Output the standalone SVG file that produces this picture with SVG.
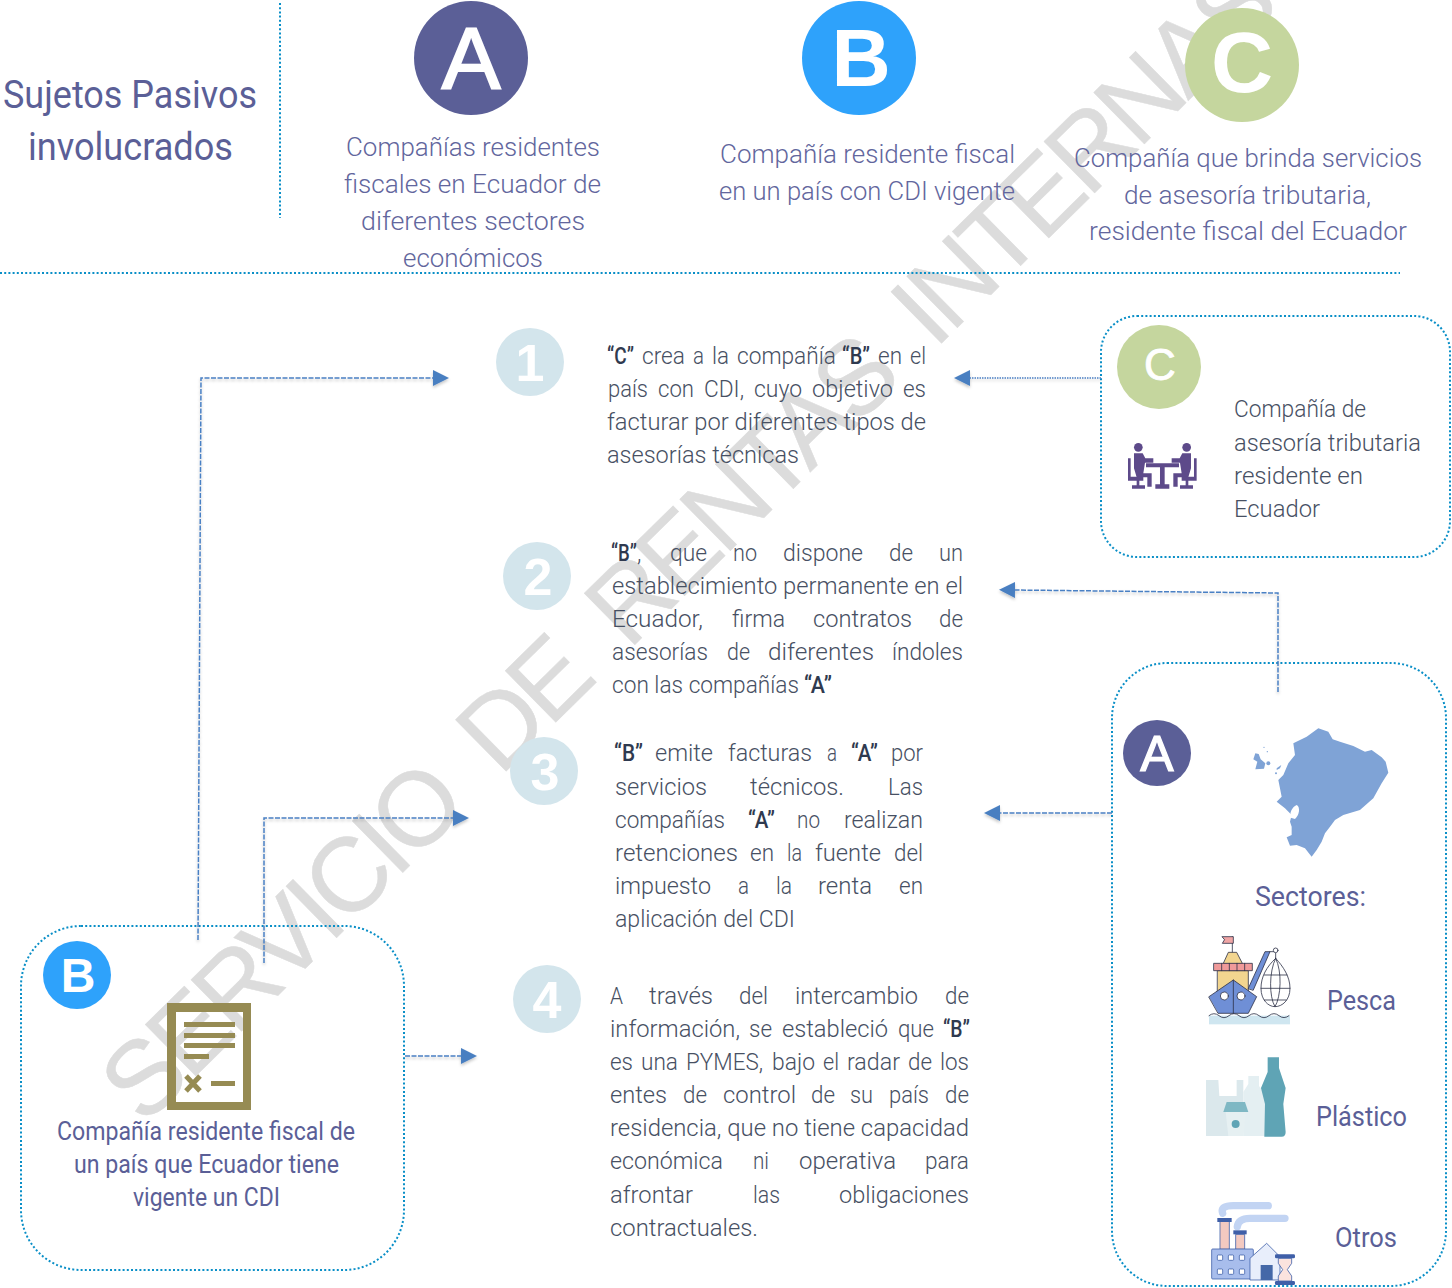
<svg xmlns="http://www.w3.org/2000/svg" width="1452" height="1288" viewBox="0 0 1452 1288">
<style>
text{font-family:Roboto,"Liberation Sans",sans-serif}
.wm{font-family:"Liberation Sans",sans-serif;font-size:105px;fill:#dcdcdc;stroke:#dcdcdc;stroke-width:.5;white-space:pre}
.h{fill:#5b5f97;font-size:38px}
.t{fill:#62669d;font-size:25px;font-weight:300}
.s{fill:#5b5f97;font-size:25px;font-weight:400}
.m{font-size:27px}
.p{fill:#475063;font-size:23px;font-weight:300}
.q{fill:#2f3a4f;font-weight:500}
.L{fill:#fff;font-family:"Liberation Sans",sans-serif;text-anchor:middle}
.n{fill:#fff;font-family:"Liberation Sans",sans-serif;font-weight:700;font-size:52px;text-anchor:middle}
.box{fill:none;stroke:#0a8fc7;stroke-width:2;stroke-dasharray:2 2.2}
.con{fill:none;stroke:#4a80c4;stroke-width:1.5;stroke-dasharray:5 1.5}
.ink{stroke:#2b2f45;stroke-width:2.4;stroke-linejoin:round;stroke-linecap:round}
.fb{stroke:#3f5fa8;stroke-width:2.4;stroke-linejoin:round}
</style>
<defs>
<marker id="arr" markerUnits="userSpaceOnUse" markerWidth="18" markerHeight="18" refX="0" refY="8" orient="auto"><path d="M0,0L16,8L0,16Z" fill="#4a7fc1"/></marker>
<filter id="sh" x="-10%" y="-10%" width="120%" height="120%"><feDropShadow dx="0" dy="2" stdDeviation="1.6" flood-color="#000" flood-opacity=".22"/></filter>
</defs>
<text class="wm" transform="translate(144,1127) rotate(-44.5)" textLength="1598">SERVICIO  DE  RENTAS  INTERNAS</text>

<path class="box" d="M280,3V218M0,273H1400"/>
<g id="title"><text class="h" x="3" y="108" textLength="254" lengthAdjust="spacingAndGlyphs">Sujetos Pasivos</text><text class="h" x="28" y="160" textLength="205" lengthAdjust="spacingAndGlyphs">involucrados</text></g>

<g id="top-a"><circle cx="471" cy="58" r="57" fill="#5b5f97"/><text class="L" x="471" y="89" font-size="88" stroke="#fff" stroke-width="2">A</text>
<text class="t" x="346" y="156" textLength="254" lengthAdjust="spacingAndGlyphs">Compañías residentes</text>
<text class="t" x="344" y="193" textLength="257" lengthAdjust="spacingAndGlyphs">fiscales en Ecuador de</text>
<text class="t" x="361" y="230" textLength="224" lengthAdjust="spacingAndGlyphs">diferentes sectores</text>
<text class="t" x="403" y="267" textLength="140" lengthAdjust="spacingAndGlyphs">económicos</text></g>
<g id="top-b"><circle cx="859" cy="58" r="57" fill="#2ea2fb"/><text class="L" x="861" y="86" font-size="82" font-weight="700">B</text>
<text class="t" x="720" y="163" textLength="295" lengthAdjust="spacingAndGlyphs">Compañía residente fiscal</text>
<text class="t" x="719" y="200" textLength="296" lengthAdjust="spacingAndGlyphs">en un país con CDI vigente</text></g>
<g id="top-c"><circle cx="1242" cy="65" r="57" fill="#c5d69e"/><text class="L" x="1242" y="92" font-size="86" font-weight="700">C</text>
<text class="t" x="1074" y="167" textLength="348" lengthAdjust="spacingAndGlyphs">Compañía que brinda servicios</text>
<text class="t" x="1124" y="204" textLength="247" lengthAdjust="spacingAndGlyphs">de asesoría tributaria,</text>
<text class="t" x="1089" y="240" textLength="318" lengthAdjust="spacingAndGlyphs">residente fiscal del Ecuador</text></g>

<g id="step1"><circle cx="530" cy="362" r="34" fill="#d3e5ec"/><text class="n" x="530" y="381">1</text>
<text class="p" y="364"><tspan class="q" x="607" textLength="27" lengthAdjust="spacingAndGlyphs">“C”</tspan><tspan x="642" textLength="43" lengthAdjust="spacingAndGlyphs">crea</tspan><tspan x="693" textLength="11" lengthAdjust="spacingAndGlyphs">a</tspan><tspan x="712" textLength="17" lengthAdjust="spacingAndGlyphs">la</tspan><tspan x="737" textLength="99" lengthAdjust="spacingAndGlyphs">compañía</tspan><tspan class="q" x="842" textLength="28" lengthAdjust="spacingAndGlyphs">“B”</tspan><tspan x="878" textLength="24" lengthAdjust="spacingAndGlyphs">en</tspan><tspan x="910" textLength="16" lengthAdjust="spacingAndGlyphs">el</tspan></text>
<text class="p" y="397"><tspan x="608" textLength="40" lengthAdjust="spacingAndGlyphs">país</tspan><tspan x="658" textLength="36" lengthAdjust="spacingAndGlyphs">con</tspan><tspan x="704" textLength="40" lengthAdjust="spacingAndGlyphs">CDI,</tspan><tspan x="754" textLength="48" lengthAdjust="spacingAndGlyphs">cuyo</tspan><tspan x="812" textLength="81" lengthAdjust="spacingAndGlyphs">objetivo</tspan><tspan x="903" textLength="23" lengthAdjust="spacingAndGlyphs">es</tspan></text>
<text class="p" x="607" y="430" textLength="319" lengthAdjust="spacingAndGlyphs">facturar por diferentes tipos de</text>
<text class="p" x="607" y="463" textLength="192" lengthAdjust="spacingAndGlyphs">asesorías técnicas</text></g>

<g id="step2"><circle cx="537" cy="576" r="34" fill="#d3e5ec"/><text class="n" x="538" y="595">2</text>
<text class="p" y="561"><tspan class="q" x="611" textLength="26" lengthAdjust="spacingAndGlyphs">“B”</tspan>,<tspan x="670" textLength="37" lengthAdjust="spacingAndGlyphs">que</tspan><tspan x="733" textLength="24" lengthAdjust="spacingAndGlyphs">no</tspan><tspan x="783" textLength="80" lengthAdjust="spacingAndGlyphs">dispone</tspan><tspan x="889" textLength="24" lengthAdjust="spacingAndGlyphs">de</tspan><tspan x="939" textLength="24" lengthAdjust="spacingAndGlyphs">un</tspan></text>
<text class="p" x="612" y="594" textLength="351" lengthAdjust="spacingAndGlyphs">establecimiento permanente en el</text>
<text class="p" y="627"><tspan x="612" textLength="91" lengthAdjust="spacingAndGlyphs">Ecuador,</tspan><tspan x="732" textLength="53" lengthAdjust="spacingAndGlyphs">firma</tspan><tspan x="813" textLength="99" lengthAdjust="spacingAndGlyphs">contratos</tspan><tspan x="939" textLength="24" lengthAdjust="spacingAndGlyphs">de</tspan></text>
<text class="p" y="660"><tspan x="612" textLength="96" lengthAdjust="spacingAndGlyphs">asesorías</tspan><tspan x="727" textLength="23" lengthAdjust="spacingAndGlyphs">de</tspan><tspan x="768" textLength="106" lengthAdjust="spacingAndGlyphs">diferentes</tspan><tspan x="892" textLength="71" lengthAdjust="spacingAndGlyphs">índoles</tspan></text>
<text class="p" y="693"><tspan x="612" textLength="187" lengthAdjust="spacingAndGlyphs">con las compañías</tspan><tspan class="q" x="804" textLength="28" lengthAdjust="spacingAndGlyphs">“A”</tspan></text></g>

<g id="step3"><circle cx="544" cy="771" r="34" fill="#d3e5ec"/><text class="n" x="545" y="790">3</text>
<text class="p" y="761"><tspan class="q" x="614" textLength="29" lengthAdjust="spacingAndGlyphs">“B”</tspan><tspan x="655" textLength="58" lengthAdjust="spacingAndGlyphs">emite</tspan><tspan x="728" textLength="84" lengthAdjust="spacingAndGlyphs">facturas</tspan><tspan x="827" textLength="10" lengthAdjust="spacingAndGlyphs">a</tspan><tspan class="q" x="851" textLength="27" lengthAdjust="spacingAndGlyphs">“A”</tspan><tspan x="891" textLength="32" lengthAdjust="spacingAndGlyphs">por</tspan></text>
<text class="p" y="795"><tspan x="615" textLength="92" lengthAdjust="spacingAndGlyphs">servicios</tspan><tspan x="750" textLength="94" lengthAdjust="spacingAndGlyphs">técnicos.</tspan><tspan x="888" textLength="35" lengthAdjust="spacingAndGlyphs">Las</tspan></text>
<text class="p" y="828"><tspan x="615" textLength="110" lengthAdjust="spacingAndGlyphs">compañías</tspan><tspan class="q" x="748" textLength="27" lengthAdjust="spacingAndGlyphs">“A”</tspan><tspan x="797" textLength="23" lengthAdjust="spacingAndGlyphs">no</tspan><tspan x="844" textLength="79" lengthAdjust="spacingAndGlyphs">realizan</tspan></text>
<text class="p" y="861"><tspan x="615" textLength="123" lengthAdjust="spacingAndGlyphs">retenciones</tspan><tspan x="750" textLength="24" lengthAdjust="spacingAndGlyphs">en</tspan><tspan x="787" textLength="15" lengthAdjust="spacingAndGlyphs">la</tspan><tspan x="815" textLength="66" lengthAdjust="spacingAndGlyphs">fuente</tspan><tspan x="894" textLength="29" lengthAdjust="spacingAndGlyphs">del</tspan></text>
<text class="p" y="894"><tspan x="615" textLength="96" lengthAdjust="spacingAndGlyphs">impuesto</tspan><tspan x="738" textLength="11" lengthAdjust="spacingAndGlyphs">a</tspan><tspan x="776" textLength="16" lengthAdjust="spacingAndGlyphs">la</tspan><tspan x="818" textLength="54" lengthAdjust="spacingAndGlyphs">renta</tspan><tspan x="899" textLength="24" lengthAdjust="spacingAndGlyphs">en</tspan></text>
<text class="p" x="615" y="927" textLength="180" lengthAdjust="spacingAndGlyphs">aplicación del CDI</text></g>

<g id="step4"><circle cx="547" cy="999" r="34" fill="#d3e5ec"/><text class="n" x="547" y="1018">4</text>
<text class="p" y="1004"><tspan x="610" textLength="13" lengthAdjust="spacingAndGlyphs">A</tspan><tspan x="649" textLength="64" lengthAdjust="spacingAndGlyphs">través</tspan><tspan x="739" textLength="29" lengthAdjust="spacingAndGlyphs">del</tspan><tspan x="795" textLength="123" lengthAdjust="spacingAndGlyphs">intercambio</tspan><tspan x="945" textLength="24" lengthAdjust="spacingAndGlyphs">de</tspan></text>
<text class="p" y="1037"><tspan x="610" textLength="130" lengthAdjust="spacingAndGlyphs">información,</tspan><tspan x="749" textLength="23" lengthAdjust="spacingAndGlyphs">se</tspan><tspan x="782" textLength="106" lengthAdjust="spacingAndGlyphs">estableció</tspan><tspan x="898" textLength="36" lengthAdjust="spacingAndGlyphs">que</tspan><tspan class="q" x="943" textLength="27" lengthAdjust="spacingAndGlyphs">“B”</tspan></text>
<text class="p" y="1070"><tspan x="610" textLength="23" lengthAdjust="spacingAndGlyphs">es</tspan><tspan x="641" textLength="37" lengthAdjust="spacingAndGlyphs">una</tspan><tspan x="686" textLength="77" lengthAdjust="spacingAndGlyphs">PYMES,</tspan><tspan x="772" textLength="43" lengthAdjust="spacingAndGlyphs">bajo</tspan><tspan x="823" textLength="16" lengthAdjust="spacingAndGlyphs">el</tspan><tspan x="847" textLength="53" lengthAdjust="spacingAndGlyphs">radar</tspan><tspan x="908" textLength="24" lengthAdjust="spacingAndGlyphs">de</tspan><tspan x="940" textLength="29" lengthAdjust="spacingAndGlyphs">los</tspan></text>
<text class="p" y="1103"><tspan x="610" textLength="57" lengthAdjust="spacingAndGlyphs">entes</tspan><tspan x="683" textLength="24" lengthAdjust="spacingAndGlyphs">de</tspan><tspan x="723" textLength="73" lengthAdjust="spacingAndGlyphs">control</tspan><tspan x="811" textLength="24" lengthAdjust="spacingAndGlyphs">de</tspan><tspan x="850" textLength="23" lengthAdjust="spacingAndGlyphs">su</tspan><tspan x="889" textLength="40" lengthAdjust="spacingAndGlyphs">país</tspan><tspan x="945" textLength="24" lengthAdjust="spacingAndGlyphs">de</tspan></text>
<text class="p" x="610" y="1136" textLength="359" lengthAdjust="spacingAndGlyphs">residencia, que no tiene capacidad</text>
<text class="p" y="1169"><tspan x="610" textLength="113" lengthAdjust="spacingAndGlyphs">económica</tspan><tspan x="753" textLength="16" lengthAdjust="spacingAndGlyphs">ni</tspan><tspan x="799" textLength="97" lengthAdjust="spacingAndGlyphs">operativa</tspan><tspan x="925" textLength="44" lengthAdjust="spacingAndGlyphs">para</tspan></text>
<text class="p" y="1203"><tspan x="610" textLength="83" lengthAdjust="spacingAndGlyphs">afrontar</tspan><tspan x="753" textLength="27" lengthAdjust="spacingAndGlyphs">las</tspan><tspan x="839" textLength="130" lengthAdjust="spacingAndGlyphs">obligaciones</tspan></text>
<text class="p" x="610" y="1236" textLength="148" lengthAdjust="spacingAndGlyphs">contractuales.</text></g>

<g id="box-c"><rect class="box" x="1101" y="316" width="349" height="241" rx="36"/>
<circle cx="1159" cy="367" r="42" fill="#c5d69e"/><text class="L" x="1160" y="380" font-size="44" stroke="#fff" stroke-width=".8">C</text>
<g fill="#5d4a8a" transform="translate(1090,300) scale(.3333)">
<circle cx="145" cy="442" r="13"/><circle cx="290" cy="442" r="13"/>
<path d="M132,460H158L166,475H190V488H165L160,520H185V560H172V532H140L132,505Z"/>
<path d="M303,460H277L269,475H245V488H270L275,520H250V560H263V532H295L303,505Z"/>
<path d="M114,475H122V530H160V542H148V556H165V566H126V556H140V542H114Z"/>
<path d="M320,475H312V530H275V542H287V556H270V566H309V556H295V542H320Z"/>
<path d="M168,490H267V502H224V553H238V566H196V553H210V502H168Z"/></g>
<text class="p" x="1234" y="417" textLength="132" lengthAdjust="spacingAndGlyphs">Compañía de</text>
<text class="p" x="1234" y="451" textLength="187" lengthAdjust="spacingAndGlyphs">asesoría tributaria</text>
<text class="p" x="1234" y="484" textLength="129" lengthAdjust="spacingAndGlyphs">residente en</text>
<text class="p" x="1234" y="517" textLength="86" lengthAdjust="spacingAndGlyphs">Ecuador</text></g>

<g id="box-a"><rect class="box" x="1112" y="663" width="334" height="623" rx="55"/>
<ellipse cx="1157" cy="753" rx="34" ry="33" fill="#5b5f97"/><text class="L" x="1157" y="771" font-size="50" stroke="#fff" stroke-width="1.2">A</text>
<g fill="#7fa3d6" transform="translate(1240,720) scale(.3333)">
<path d="M235,25L265,35L278,58L300,65L340,78L375,95L395,90L425,112L437,125L445,158L425,190L400,235L360,270L310,285L285,300L270,320L255,340L245,365L230,390L215,410L195,385L170,375L150,377L140,352L155,345L155,320L150,305L155,285L135,265L110,245L125,230L115,180L130,165L145,130L165,105L160,70L200,50Z"/>
<path d="M170,255C182,262 178,285 165,297L152,293C148,280 155,262 170,255Z" fill="#fff"/>
<path d="M46,100L56,102L62,118L76,130L72,146L46,148L52,125L40,118Z"/><circle cx="85" cy="130" r="6"/><path d="M110,145L124,135L120,145L110,150Z"/><circle cx="108" cy="160" r="3"/><circle cx="72" cy="82" r="2"/><circle cx="82" cy="95" r="2"/></g>
<text class="s m" x="1255" y="906" textLength="111" lengthAdjust="spacingAndGlyphs">Sectores:</text>
<g id="ship" transform="translate(1195,925) scale(.3333)">
<rect x="42" y="272" width="243" height="26" fill="#cfe6f0"/>
<path class="ink" fill="none" d="M112,35V85M42,272q15,-12 30,0t30,0t30,0t30,0t30,0t30,0t30,0t30,0"/>
<path class="ink" fill="#f0a5a5" d="M82,35H115V55H82L88,45Z"/>
<path class="ink" fill="#f2d58f" d="M85,115L100,82H125L142,115Z"/>
<rect class="ink" fill="#f2d58f" x="68" y="137" width="92" height="65"/>
<rect class="ink" fill="#ef9a9a" x="57" y="115" width="115" height="22"/>
<path class="ink" fill="none" d="M80,115V137M103,115V137M126,115V137M149,115V137"/>
<path class="ink" fill="#6f8fd6" d="M160,190L210,80H225L175,195Z"/>
<path class="ink" fill="#6f8fd6" d="M42,215L115,165L185,215L160,265H70Z"/>
<path class="ink" fill="none" d="M115,165V265M225,80H236M242,84V102"/>
<circle class="ink" cx="88" cy="213" r="12" fill="#fff"/><circle class="ink" cx="138" cy="213" r="12" fill="#fff"/>
<circle class="ink" cx="242" cy="76" r="7" fill="#fff"/>
<path class="ink" fill="#fff" d="M242,100C215,125 198,155 198,190C198,225 220,245 240,245C262,245 285,225 285,190C285,155 265,125 242,100Z"/>
<path class="ink" fill="none" d="M242,100C222,140 222,215 240,245C258,215 262,140 242,100M208,150H276M198,190H285M208,225H274"/>
</g>
<text class="s m" x="1327" y="1010" textLength="69" lengthAdjust="spacingAndGlyphs">Pesca</text>
<g id="plastic" transform="translate(1110,660) scale(.3333,.4)">
<path fill="#dbe8ec" d="M288,1050H325L328,1090H380V1050H400V1190H288Z"/>
<path fill="#e4eff2" d="M415,1040H447V1065L465,1085V1190H400V1080L415,1060Z"/>
<path fill="#5fa4b5" d="M473,993H507V1020L527,1070L520,1110L527,1180Q527,1192 515,1192H463L465,1110L453,1070L473,1030Z"/>
<path fill="#e6f0f2" d="M347,1130H408L400,1190H355Z"/>
<path fill="#7fb8c4" d="M350,1105H405L415,1130H340Z"/>
<ellipse cx="377" cy="1160" rx="12" ry="10" fill="#5fa4b5"/></g>
<text class="s m" x="1316" y="1126" textLength="91" lengthAdjust="spacingAndGlyphs">Plástico</text>
<g id="factory" transform="translate(1200,1195) scale(.3333)">
<path fill="none" stroke="#c2d4f3" stroke-width="22" stroke-linecap="round" stroke-linejoin="round" d="M68,55Q60,32 100,32H205M112,95Q115,70 150,70H255"/>
<rect class="fb" fill="#f3c9c0" x="60" y="78" width="28" height="85"/><rect fill="#3f5fa8" x="52" y="69" width="43" height="12"/>
<rect class="fb" fill="#f3c9c0" x="107" y="118" width="27" height="45"/><rect fill="#3f5fa8" x="100" y="106" width="40" height="12"/>
<rect class="fb" fill="#a8bdec" x="35" y="162" width="125" height="90" rx="3"/>
<g class="fb" fill="#fff"><rect x="52" y="180" width="16" height="16" rx="3"/><rect x="85" y="180" width="16" height="16" rx="3"/><rect x="118" y="180" width="16" height="16" rx="3"/><rect x="52" y="222" width="16" height="16" rx="3"/><rect x="85" y="222" width="16" height="16" rx="3"/><rect x="118" y="222" width="16" height="16" rx="3"/></g>
<path class="fb" fill="#e8eefb" d="M150,190L200,145L240,185V255H150Z"/>
<rect fill="#4468a8" x="182" y="210" width="36" height="45"/>
<path class="fb" fill="#fbe3de" d="M235,190H275V205L262,224L275,243V258H235V243L248,224L235,205Z"/>
<rect fill="#3f5fa8" x="225" y="178" width="60" height="12" rx="4"/><rect fill="#3f5fa8" x="225" y="258" width="60" height="12" rx="4"/>
</g>
<text class="s m" x="1335" y="1247" textLength="62" lengthAdjust="spacingAndGlyphs">Otros</text></g>

<g id="box-b"><rect class="box" x="21" y="926" width="383" height="344" rx="60"/>
<circle cx="77" cy="975" r="34" fill="#2ea2fb"/><text class="L" x="78" y="992" font-size="48" font-weight="700">B</text>
<g id="doc" fill="#968b53"><path fill-rule="evenodd" d="M167,1003H251V1110H167ZM176,1012V1102H243V1012Z"/>
<rect x="184" y="1022" width="51" height="5"/><rect x="184" y="1033" width="51" height="5"/><rect x="184" y="1043" width="51" height="5"/><rect x="184" y="1054" width="25" height="5"/><rect x="211" y="1081" width="24" height="5"/>
<path stroke="#968b53" stroke-width="5" d="M186,1076L200,1091M200,1076L186,1091"/></g>
<text class="s" x="57" y="1140" textLength="298" lengthAdjust="spacingAndGlyphs">Compañía residente fiscal de</text>
<text class="s" x="74" y="1173" textLength="265" lengthAdjust="spacingAndGlyphs">un país que Ecuador tiene</text>
<text class="s" x="133" y="1206" textLength="147" lengthAdjust="spacingAndGlyphs">vigente un CDI</text></g>

<g id="connectors" filter="url(#sh)">
<path class="con" marker-end="url(#arr)" d="M198,940L201,378H433"/>
<path class="con" marker-end="url(#arr)" d="M264,963V818H453"/>
<path class="con" marker-end="url(#arr)" d="M405,1056H461"/>
<path class="con" marker-end="url(#arr)" style="stroke-dasharray:1.5 1" d="M1101,378H970"/>
<path class="con" marker-end="url(#arr)" d="M1278,692V593L1015,590"/>
<path class="con" marker-end="url(#arr)" d="M1112,813H1000"/>
</g>
</svg>
